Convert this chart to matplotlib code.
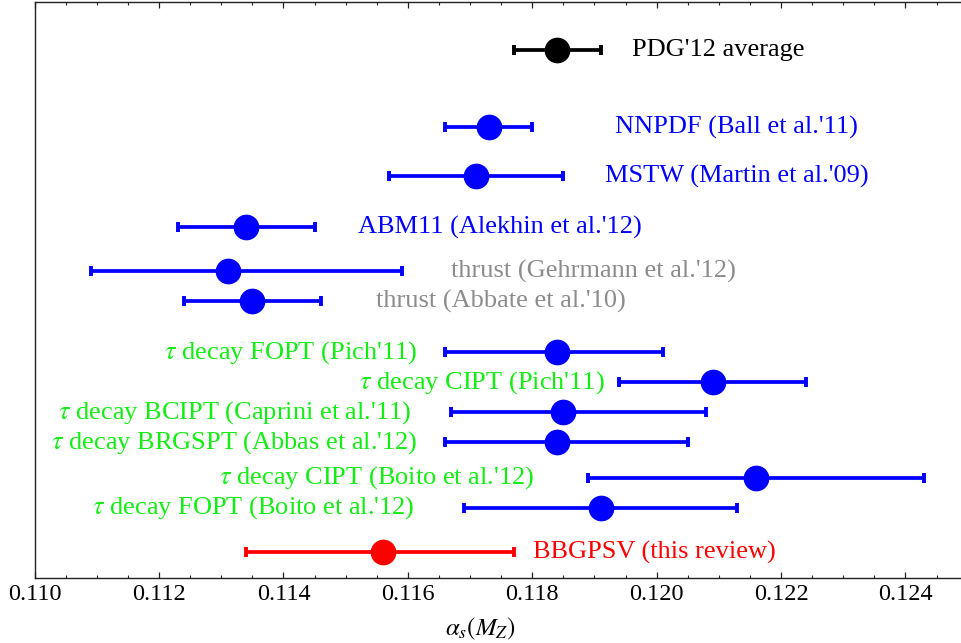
import matplotlib
matplotlib.use('Agg')
import matplotlib.pyplot as plt
import numpy as np

plt.rcParams['font.family'] = ['Liberation Serif', 'DejaVu Serif']
plt.rcParams['mathtext.fontset'] = 'stix'

# alpha_s(M_Z) determinations: label, central value, lower end, upper end
labels = ["PDG'12 average",
          "NNPDF (Ball et al.'11)",
          "MSTW (Martin et al.'09)",
          "ABM11 (Alekhin et al.'12)",
          "thrust (Gehrmann et al.'12)",
          "thrust (Abbate et al.'10)",
          r"$\tau$ decay FOPT (Pich'11)",
          r"$\tau$ decay CIPT (Pich'11)",
          r"$\tau$ decay BCIPT (Caprini et al.'11)",
          r"$\tau$ decay BRGSPT (Abbas et al.'12)",
          r"$\tau$ decay CIPT (Boito et al.'12)",
          r"$\tau$ decay FOPT (Boito et al.'12)",
          "BBGPSV (this review)"]
central = [0.1184, 0.1173, 0.1171, 0.1134, 0.1131, 0.1135, 0.1184,
           0.1209, 0.1185, 0.1184, 0.1216, 0.1191, 0.1156]
low = [0.1177, 0.1166, 0.1157, 0.1123, 0.1109, 0.1124, 0.1166,
       0.1194, 0.1167, 0.1166, 0.1189, 0.1169, 0.1134]
high = [0.1191, 0.1180, 0.1185, 0.1145, 0.1159, 0.1146, 0.1201,
        0.1224, 0.1208, 0.1205, 0.1243, 0.1213, 0.1177]

# layout: row heights (from top), where each label sits and how it is aligned
rows = [50, 127, 176, 227, 271, 301, 352, 382, 412, 442, 478, 508, 552]
label_x = [0.11960, 0.11933, 0.11917, 0.11520, 0.11669, 0.11549, 0.11615,
           0.11917, 0.11605, 0.11615, 0.11803, 0.11610, 0.11801]
label_ha = ['left', 'left', 'left', 'left', 'left', 'left', 'right',
            'right', 'right', 'right', 'right', 'right', 'left']
bar_col = ['black'] + ['blue'] * 11 + ['red']
text_col = (['black'] + ['blue'] * 3 + ['#8c8c8c'] * 2 + ['#11ee11'] * 6
            + ['red'])

fig = plt.figure(figsize=(9.62, 6.43), dpi=100)
ax = fig.add_axes([0.0361, 0.1016, 0.9639, 0.8958])

c = np.array(central)
err = np.array([c - np.array(low), np.array(high) - c])
for i in range(len(labels)):
    ax.errorbar(c[i], rows[i], xerr=err[:, i:i + 1], fmt='o',
                color=bar_col[i], ms=17.5, lw=2.7, capsize=3.6,
                capthick=2.8, zorder=3)
    ax.text(label_x[i], rows[i], labels[i], color=text_col[i],
            ha=label_ha[i], va='center', fontsize=19)

ax.set_xlim(0.110, 0.12491)
ax.set_ylim(577.7, 1.2)
ax.set_xticks(np.arange(0.110, 0.1241, 0.002))
ax.set_xticks(np.arange(0.110, 0.1250, 0.0005), minor=True)
ax.set_xticklabels(['%.3f' % t for t in np.arange(0.110, 0.1241, 0.002)])
ax.set_yticks([])
ax.tick_params(axis='x', which='both', direction='in', top=True,
               labelsize=17.5, pad=4.5, color='#222222')
ax.tick_params(axis='x', which='major', length=4, width=0.9)
ax.tick_params(axis='x', which='minor', length=2.4, width=0.8)
ax.spines['right'].set_visible(False)
for s in ['left', 'top', 'bottom']:
    ax.spines[s].set_linewidth(1.0)
    ax.spines[s].set_color('#222222')

ax.set_xlabel(r'$\alpha_s(M_Z)$', fontsize=18)
ax.xaxis.set_label_coords(0.481, -0.066)

fig.savefig('out.png', dpi=100)
